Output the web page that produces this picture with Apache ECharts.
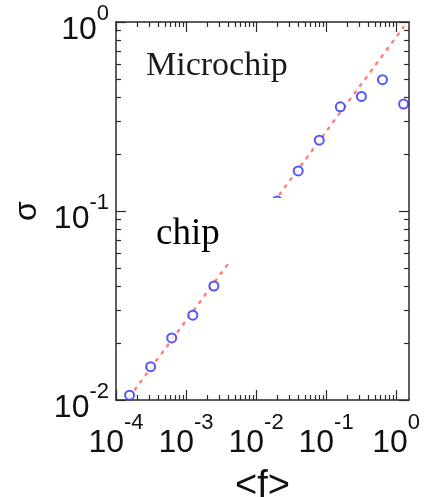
<!DOCTYPE html>
<html>
<head>
<meta charset="utf-8">
<script src="https://cdn.jsdelivr.net/npm/echarts@6/dist/echarts.min.js"></script>
<style>
html,body{margin:0;padding:0;background:#fff;}
#c{width:429px;height:497px;}
</style>
</head>
<body>
<div id="c"></div>
<script>
// ---- data ----
const xTickLabels = [1e-4, 1e-3, 1e-2, 1e-1, 1];
const yTickLabels = [1e-2, 1e-1, 1];
const fValues = [1.5625e-4, 3.125e-4, 6.25e-4, 1.25e-3, 2.5e-3, 0.02, 0.04, 0.08, 0.16, 0.32, 0.64, 1.28];
const sigmaValues = [0.0106, 0.0150, 0.0213, 0.0281, 0.0401, 0.113, 0.163, 0.237, 0.356, 0.404, 0.495, 0.368];
const fitF = [1.5625e-4, 1.28];
const fitSigma = [0.0104, 0.94];
const xMin = 1e-4, xMax = 1.53;
const yMin = 1e-2, yMax = 1;

function minorTicks(lo, hi) {
  const out = [];
  for (let e = Math.floor(Math.log10(lo)); e <= Math.ceil(Math.log10(hi)); e++) {
    for (let k = 2; k <= 9; k++) {
      const v = k * Math.pow(10, e);
      if (v > lo && v < hi) out.push(v);
    }
  }
  return out;
}
const xMinor = minorTicks(xMin, xMax);
const yMinor = minorTicks(yMin, yMax);

const axisColor = '#2a2a2a';
const FONT = 'Liberation Sans';
// base "10" visible, exponent hidden (keeps widths identical for both layers)
const richBase = {
  b: { fontSize: 32, fontFamily: FONT, color: '#111', lineHeight: 32 },
  h: { fontSize: 22, fontFamily: FONT, color: 'rgba(0,0,0,0)', lineHeight: 20 }
};
// exponent visible, base hidden
const richExp = {
  h: { fontSize: 32, fontFamily: FONT, color: 'rgba(0,0,0,0)', lineHeight: 20 },
  e: { fontSize: 22, fontFamily: FONT, color: '#111', lineHeight: 20 }
};
function expOf(v) { return Math.round(Math.log10(v)); }
function fmtBase(v) { return '{b|10}{h|' + expOf(v) + '}'; }
function fmtExp(v) { return '{h|10}{e|' + expOf(v) + '}'; }

function makeAxis(dim, pos, ticks, len, showLine, label, extra) {
  const ax = {
    type: 'log', logBase: 10, gridIndex: 0, position: pos,
    min: dim === 'x' ? xMin : yMin,
    max: dim === 'x' ? xMax : yMax,
    axisLine: { show: showLine, onZero: false, lineStyle: { color: axisColor, width: 1.5 } },
    axisTick: { show: true, inside: true, length: len, customValues: ticks, lineStyle: { color: axisColor, width: 1.2 } },
    axisLabel: label || { show: false },
    splitLine: { show: false },
    minorTick: { show: false },
    minorSplitLine: { show: false }
  };
  return Object.assign(ax, extra || {});
}

const chart = echarts.init(document.getElementById('c'), null, { renderer: 'canvas' });
chart.setOption({
  animation: false,
  backgroundColor: '#fff',
  grid: { left: 116, right: 20, top: 22, bottom: 97, containLabel: false, outerBoundsMode: 'none' },
  xAxis: [
    makeAxis('x', 'bottom', xTickLabels, 10, true,
      { show: true, customValues: xTickLabels, formatter: fmtBase, rich: richBase, margin: 27 },
      {
        name: '<f>', nameLocation: 'middle', nameGap: 68,
        nameTextStyle: { fontSize: 38, fontFamily: FONT, color: '#111' }
      }),
    makeAxis('x', 'bottom', xMinor, 5, false,
      { show: true, customValues: xTickLabels, formatter: fmtExp, rich: richExp, margin: 13 }),
    makeAxis('x', 'top', xTickLabels, 10, true, null),
    makeAxis('x', 'top', xMinor, 5, false, null)
  ],
  yAxis: [
    makeAxis('y', 'left', yTickLabels, 10, true,
      { show: true, customValues: yTickLabels, formatter: fmtBase, rich: richBase, margin: 7, padding: [17, 0, 0, 0] },
      {
        name: 'σ', nameLocation: 'middle', nameGap: 66, nameRotate: 90,
        nameTextStyle: { fontSize: 32, fontFamily: FONT, color: '#111' }
      }),
    makeAxis('y', 'left', yMinor, 5, false,
      { show: true, customValues: yTickLabels, formatter: fmtExp, rich: richExp, margin: 7, padding: [0, 0, 16, 0] }),
    makeAxis('y', 'right', yTickLabels, 10, true, null),
    makeAxis('y', 'right', yMinor, 5, false, null)
  ],
  series: [
    {
      type: 'line', xAxisIndex: 0, yAxisIndex: 0, z: 2,
      data: fitF.map((f, i) => [f, fitSigma[i]]),
      showSymbol: false, symbol: 'none', silent: true,
      lineStyle: { color: '#ff8080', width: 2.5, type: [2, 7], cap: 'round' }
    },
    {
      type: 'scatter', xAxisIndex: 0, yAxisIndex: 0, z: 3,
      data: fValues.map((f, i) => [f, sigmaValues[i]]),
      symbol: 'emptyCircle', symbolSize: 9,
      itemStyle: { color: '#2b2bff', borderColor: '#2b2bff', borderWidth: 2.2 }
    }
  ],
  graphic: [
    { type: 'rect', z: 100, shape: { x: 135, y: 198, width: 177, height: 65 }, style: { fill: '#fff' } },
    { type: 'text', z: 101, x: 156, y: 234, style: { text: 'chip', font: '37px "Liberation Serif"', fill: '#000', verticalAlign: 'middle', align: 'left' } },
    { type: 'text', z: 101, x: 146, y: 66, style: { text: 'Microchip', font: '34px "Liberation Serif"', fill: '#1a1a1a', verticalAlign: 'middle', align: 'left' } }
  ]
});
</script>
</body>
</html>
